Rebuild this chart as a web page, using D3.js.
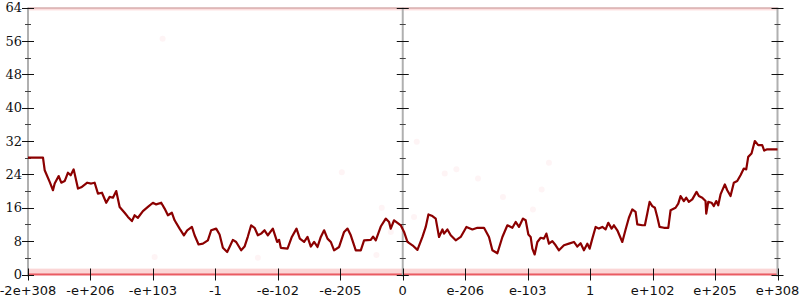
<!DOCTYPE html>
<html><head><meta charset="utf-8">
<script src="https://cdn.jsdelivr.net/npm/d3@7"></script>
<style>body{margin:0;background:#fff}svg{display:block}</style>
</head><body>
<svg id="c" width="800" height="300"></svg>
<script>
// x positions are in "ordering units" 0..750 across the 12 tick intervals
const xTickLabels = ["-2e+308","-e+206","-e+103","-1","-e-102","-e-205","0","e-206","e-103","1","e+102","e+205","e+308"];
const yTicks = [0,8,16,24,32,40,48,56,64];
const yMinorTicks = [4,12,20,28,36,44,52,60];
const lineX = [0,15,16.7,21.7,25,26.7,30.7,33.3,36.7,40,42.7,45.7,50,53.3,59.3,63.3,66.7,70,74,78.3,81.7,85,88.3,91.7,96.7,100,104,106.7,110,115,120,125,128.3,133.3,136.7,140,144,146.7,151.7,156,159.3,164,166.7,170.7,175,180,183.3,188.3,191.7,195,199.3,201.7,205,208.3,213.3,216.7,220,223.3,226.7,230,233.3,236.7,240,245,249.3,251.3,253,259.7,264,268.7,272,276.3,279.7,283,286.3,289.7,293,296.3,299.7,303,306.3,311.3,316.3,319.7,323,328,333,336.3,343,345.3,348,353,358,361.3,363,366.3,369.7,373,376.3,379.7,384.7,389.7,394.7,398,400.7,404.7,408,411.3,414.7,416.3,419.7,423,428,433,438.7,444.7,449.7,456.3,461.3,464.7,469.7,474.7,479.7,484.7,488,491.3,495.3,498,500.7,503,504.7,507,509.7,513,516.3,518.7,521.3,524.7,528,531.3,536.3,541.3,546.3,549.7,553,556.3,559.7,562,564.7,568,571.3,574.7,578,580.7,584,586.3,589.7,594.7,598,601.3,604.7,608,609.7,614.7,617.3,619.7,622,624.7,627.3,629.7,632,636.3,640.7,643,648,650.7,653,656.3,658.7,661.3,664.7,669,671.3,674.7,678,678.7,680.7,684,686.3,688.7,690.7,693,697.3,699.7,703,706.3,709.7,713,716.3,718.7,720.7,724,727.3,730.7,734.7,736.7,739.7,750];
const lineY = [28,28,25,22.2,20.2,21.8,23.6,22,22.4,24.4,23.8,25.2,20.6,20.9,22,21.8,22,19.4,19.6,17.2,18.6,18.4,20,16.2,14.8,13.8,12.8,14.2,13.6,15.2,16.2,17.2,16.8,17.2,15.8,14.2,14.8,13,11,9.4,10.6,11.4,9.4,7.2,7.4,8.2,10.6,11,9.6,6.4,5.4,6.6,8.3,7.8,5.8,6.7,9.1,11.8,11.2,9.4,9.8,10.6,9.4,11,7.8,8.3,6.4,6.2,9,11,8.6,7.8,9,6.7,7.8,6.6,9,10.6,8.6,7.8,5.8,6.6,10.2,11,9.4,5.8,5.8,8.2,8.3,9.1,8.2,11.5,13.4,12.6,11,13,12.4,11.8,10.2,7.8,7,5.9,9,11.4,14.4,14,13.4,9,10.8,9.8,10.8,9.4,8.2,9,11.4,10.8,11.2,11.2,9,5.8,5.1,9,11.8,11.2,12.6,11.4,13.4,13,9.6,9,6.2,4.8,7.8,8.8,8.6,9.8,7.4,8,7,5.8,7,7.4,7.8,6.7,7.5,5.8,7.4,6.2,8.6,11.4,11,11.4,10.8,12.4,11,11.8,10.6,7.8,10.8,13.6,15.6,15,12,11.8,11.8,14.6,17.4,16.4,16,13.8,11.4,11.2,11.2,15.4,16,17,18.8,17.6,18.4,17.4,18,19.8,18.8,18.4,17.6,14.6,17.4,17.2,16.4,17.6,16.6,19.2,21.6,20.2,18.8,22,22.4,23.8,25.4,25.2,28.2,29,32,31,31,29.7,30,30];
const dotX = [134.7,314,389,417,428.7,450.3,475.3,354,386.3,363,348.7,126.7,230,521.3,514,505.3];
const dotY = [56.5,24.5,31.8,24.2,25.2,23,18.6,16,13.8,10.2,4.7,4.2,4,26.8,20.4,15.6];
const bandLow = [0,1.4];
const bandHigh = [63.3,64];

const svg = d3.select("#c");
const x = d3.scaleLinear().domain([0,750]).range([28,777.5]);
const y = d3.scaleLinear().domain([0,64]).range([274.5,7.5]);
const xTickVals = xTickLabels.map((d,i)=>i*62.5);

// bands of dense points
svg.append("rect").attr("x",x(0)).attr("width",x(750)-x(0))
  .attr("y",y(bandLow[1])).attr("height",y(bandLow[0])-y(bandLow[1]))
  .attr("fill","rgba(240,90,90,0.25)");
svg.append("line").attr("x1",x(0)).attr("x2",x(750)).attr("y1",y(0)).attr("y2",y(0))
  .attr("stroke","rgba(225,30,40,0.7)").attr("stroke-width",2);
svg.append("rect").attr("x",x(0)).attr("width",x(750)-x(0))
  .attr("y",y(bandHigh[1])).attr("height",y(bandHigh[0])-y(bandHigh[1]))
  .attr("fill","rgba(240,90,90,0.2)");
svg.append("line").attr("x1",x(0)).attr("x2",x(750)).attr("y1",y(64)+0.5).attr("y2",y(64)+0.5)
  .attr("stroke","rgba(150,80,80,0.55)").attr("stroke-width",1.2);

// faint scattered points
svg.append("g").selectAll("circle").data(dotX).join("circle")
  .attr("cx",(d)=>x(d)).attr("cy",(d,i)=>y(dotY[i])).attr("r",3)
  .attr("fill","rgba(240,60,80,0.06)");

// axes lines (left, center, right)
const axisXs = [0,375,750];
const g = svg.append("g");
axisXs.forEach(ax=>{
  g.append("line").attr("x1",x(ax)).attr("x2",x(ax)).attr("y1",y(64)).attr("y2",y(0)+2)
    .attr("stroke","#b0b0b0").attr("stroke-width",2);
  g.selectAll(null).data(yTicks).join("line")
    .attr("x1",x(ax)-6).attr("x2",x(ax)+6).attr("y1",d=>Math.round(y(d))+0.5).attr("y2",d=>Math.round(y(d))+0.5)
    .attr("stroke","#111").attr("stroke-width",1);
  g.selectAll(null).data(yMinorTicks).join("line")
    .attr("x1",x(ax)-3).attr("x2",x(ax)+3).attr("y1",d=>Math.round(y(d))+0.5).attr("y2",d=>Math.round(y(d))+0.5)
    .attr("stroke","#444").attr("stroke-width",1);
});

// x ticks
g.selectAll(null).data(xTickVals).join("line")
  .attr("x1",d=>Math.round(x(d))+0.5).attr("x2",d=>Math.round(x(d))+0.5)
  .attr("y1",y(0)-6).attr("y2",y(0)+6).attr("stroke","#111").attr("stroke-width",1);
g.selectAll(null).data(xTickLabels).join("text")
  .attr("x",(d,i)=>x(xTickVals[i])).attr("y",295)
  .attr("text-anchor","middle").attr("font-family","DejaVu Sans").attr("font-size",13)
  .attr("fill","#111").text(d=>d);

// y labels
g.selectAll(null).data(yTicks).join("text")
  .attr("x",22).attr("y",d=>y(d)).attr("dy","0.36em")
  .attr("text-anchor","end").attr("font-family","DejaVu Serif").attr("font-size",13)
  .attr("fill","#111").text(d=>d);

// the line
const pts = lineX.map((d,i)=>[d,lineY[i]]);
svg.append("path").datum(pts)
  .attr("d",d3.line().x(d=>x(d[0])).y(d=>y(d[1])))
  .attr("fill","none").attr("stroke","#8b0000").attr("stroke-width",2.2).attr("stroke-linejoin","round");
</script>
</body></html>
